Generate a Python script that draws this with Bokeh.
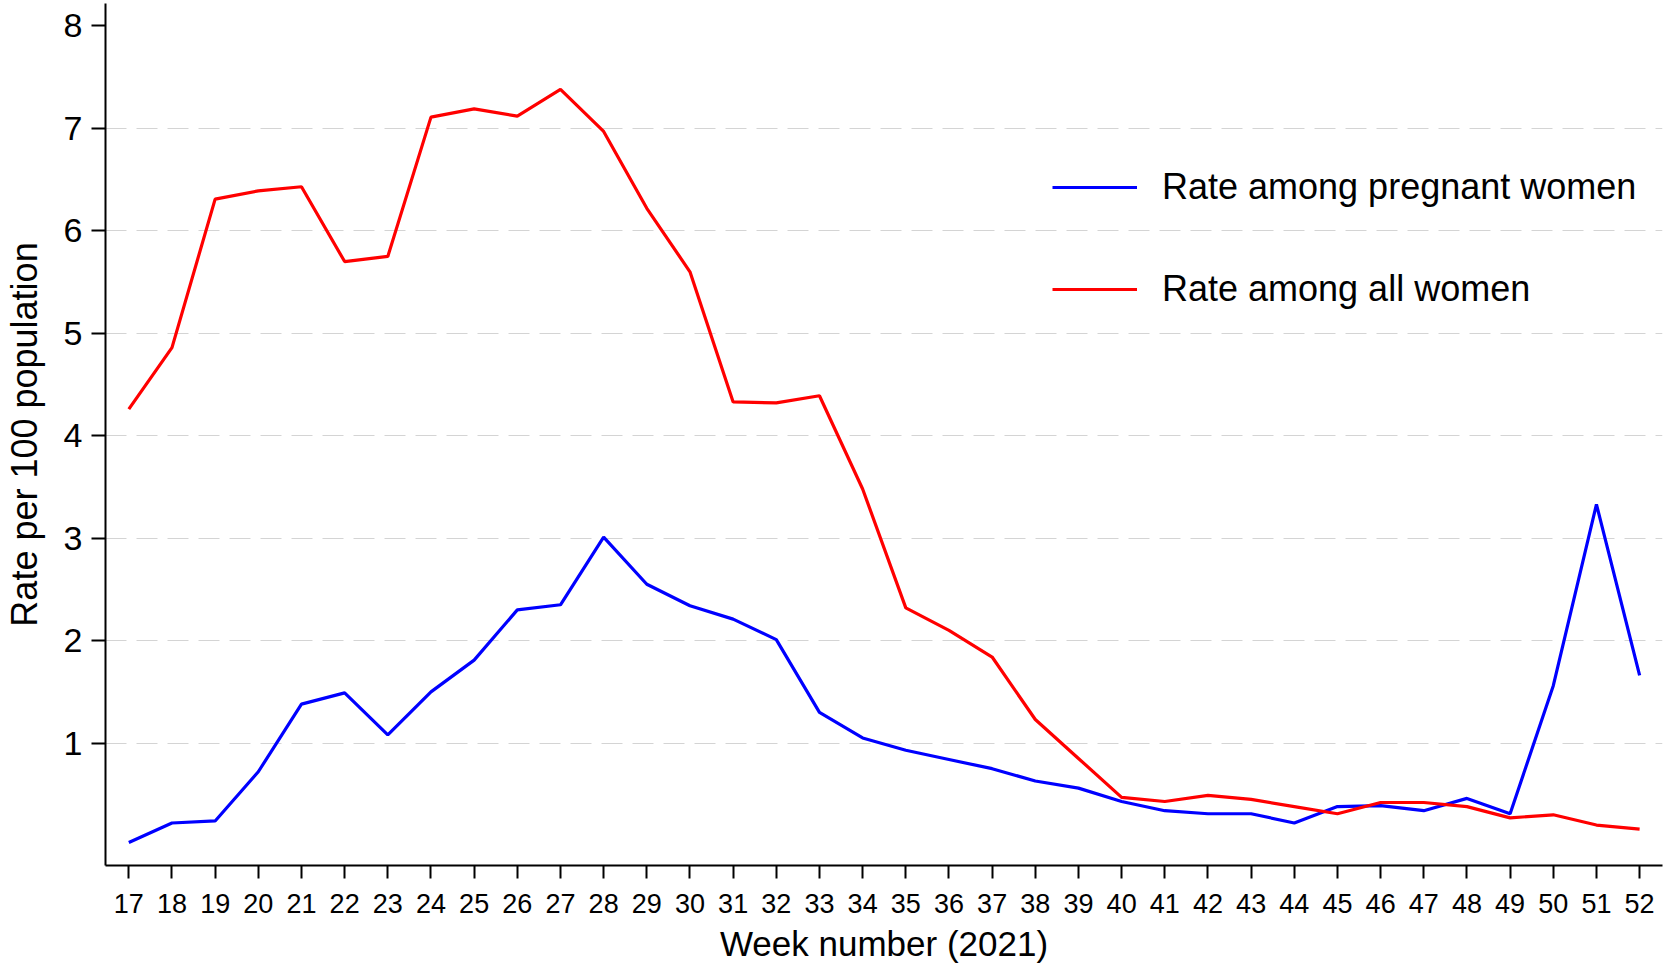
from bokeh.plotting import figure
from bokeh.models import FixedTicker, Legend, LegendItem, Range1d
from bokeh.embed import file_html
from bokeh.resources import INLINE

weeks = list(range(17, 53))
pregnant = [0.03, 0.22, 0.24, 0.72, 1.38, 1.49, 1.08, 1.50, 1.81, 2.30, 2.35, 3.01,
            2.55, 2.34, 2.21, 2.01, 1.30, 1.05, 0.93, 0.84, 0.75, 0.63, 0.56, 0.43,
            0.34, 0.31, 0.31, 0.22, 0.38, 0.39, 0.34, 0.46, 0.31, 1.56, 3.33, 1.66]
all_women = [4.26, 4.86, 6.31, 6.39, 6.43, 5.70, 5.75, 7.11, 7.19, 7.12, 7.38, 6.97,
             6.22, 5.60, 4.33, 4.32, 4.39, 3.48, 2.32, 2.10, 1.84, 1.23, 0.85, 0.47,
             0.43, 0.49, 0.45, 0.38, 0.31, 0.42, 0.42, 0.38, 0.27, 0.30, 0.20, 0.16]
y_ticks = [1, 2, 3, 4, 5, 6, 7, 8]
grid_ticks = [1, 2, 3, 4, 5, 6, 7]
labels = ["Rate among pregnant women", "Rate among all women"]
x_title = "Week number (2021)"
y_title = "Rate per 100 population"

FONT = "Liberation Sans"

p = figure(width=1665, height=968, output_backend="svg", toolbar_location=None,
           x_range=Range1d(16.46, 52.53), y_range=Range1d(-0.195, 8.219),
           min_border_left=104, min_border_right=3, min_border_top=3, min_border_bottom=103)
p.outline_line_color = None
p.background_fill_color = "white"

r_blue = p.line(weeks, pregnant, line_color="#0000ff", line_width=3.2)
r_red = p.line(weeks, all_women, line_color="#ff0000", line_width=3.2)

p.xaxis.ticker = FixedTicker(ticks=weeks)
p.yaxis.ticker = FixedTicker(ticks=y_ticks)
p.xgrid.grid_line_color = None
p.ygrid.ticker = FixedTicker(ticks=grid_ticks)
p.ygrid.grid_line_color = "#d4d4d4"
p.ygrid.grid_line_width = 1
p.ygrid.grid_line_dash = "21 10"

for ax in (p.xaxis[0], p.yaxis[0]):
    ax.axis_line_color = "black"
    ax.axis_line_width = 2
    ax.major_tick_line_color = "black"
    ax.major_tick_line_width = 2
    ax.major_tick_in = 0
    ax.minor_tick_line_color = None
    ax.major_label_text_font = FONT
    ax.major_label_text_color = "black"
    ax.axis_label_text_font = FONT
    ax.axis_label_text_font_style = "normal"
    ax.axis_label_text_color = "black"

p.xaxis.major_tick_out = 13
p.xaxis.major_label_text_font_size = "27px"
p.xaxis.major_label_standoff = 15
p.xaxis.axis_label = x_title
p.xaxis.axis_label_text_font_size = "35px"
p.xaxis.axis_label_standoff = 8

p.yaxis.major_tick_out = 14
p.yaxis.major_label_text_font_size = "34px"
p.yaxis.major_label_standoff = 9
p.yaxis.axis_label = y_title
p.yaxis.axis_label_text_font_size = "36px"
p.yaxis.axis_label_standoff = 16

legend = Legend(items=[LegendItem(label=labels[0], renderers=[r_blue]),
                       LegendItem(label=labels[1], renderers=[r_red])],
                location=(947, 555), orientation="vertical")
legend.label_text_font = FONT
legend.label_text_font_size = "36px"
legend.label_text_color = "black"
legend.glyph_width = 85
legend.glyph_height = 40
legend.label_height = 40
legend.label_standoff = 25
legend.spacing = 60
legend.padding = 0
legend.margin = 0
legend.border_line_color = None
legend.background_fill_alpha = 0
p.add_layout(legend, "center")

open("out.html", "w").write(file_html(p, INLINE))
